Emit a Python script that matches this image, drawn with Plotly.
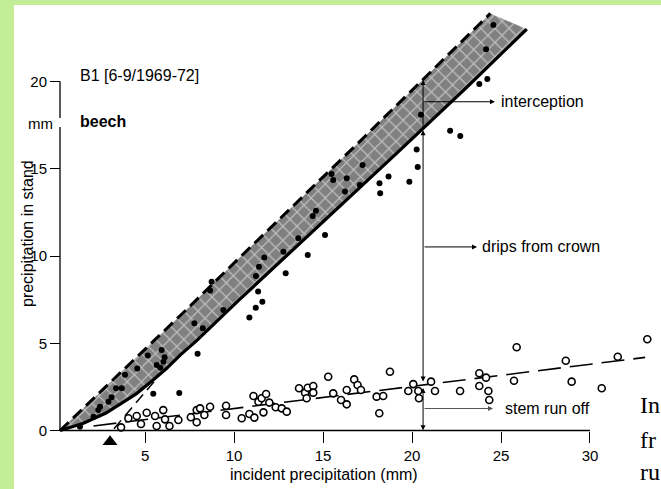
import plotly.graph_objects as go

# ---------------- data ----------------
# upper (dashed) boundary of the shaded band: incident precipitation
upper_x = [0.22, 1.25, 2.6, 4.0, 5.4, 7.5, 9.7, 13.0, 17.1, 20.6, 24.4]
upper_y = [0.0, 1.0, 2.35, 3.7, 5.05, 7.1, 9.3, 12.55, 16.6, 20.1, 23.9]
# lower (solid) boundary: throughfall regression
lower_x = [0.22, 1.5, 2.8, 3.6, 4.5, 5.4, 6.2, 7.0, 7.9, 10.3, 14.0, 19.1, 23.0, 26.45]
lower_y = [0.0, 0.4, 1.0, 1.5, 2.1, 2.85, 3.55, 4.35, 5.15, 7.5, 11.0, 15.85, 19.6, 23.0]

# throughfall measurements (filled dots)
tf_x = [1.34, 2.1, 2.37, 2.47, 2.94, 3.12, 3.37, 3.69, 3.87, 4.56, 5.15, 5.65, 5.85, 5.93, 6.1,
        6.03, 5.46, 6.92, 7.95, 7.77, 8.24, 8.65, 8.74, 9.4, 10.86, 11.22, 11.59, 11.35, 11.23,
        11.4, 11.7, 12.77, 12.9, 13.61, 14.14, 14.42, 14.6, 15.11, 15.48, 15.57, 16.23, 16.33,
        17.07, 17.22, 18.17, 18.21, 18.68, 19.85, 20.26, 20.32, 20.5, 22.14, 22.71, 23.78,
        24.23, 24.16, 24.57]
tf_y = [0.22, 0.79, 1.17, 1.36, 1.65, 1.9, 2.42, 2.42, 3.2, 3.55, 4.3, 3.75, 3.6, 4.61, 4.2,
        3.94, 2.1, 2.15, 4.4, 6.14, 5.86, 8.03, 8.53, 6.91, 6.47, 7.04, 7.38, 7.96, 8.85,
        9.39, 9.92, 10.25, 9.01, 11.01, 10.06, 12.29, 12.6, 11.2, 14.7, 14.36, 13.69, 14.45,
        14.07, 15.21, 14.17, 13.59, 14.55, 14.26, 16.11, 15.1, 18.1, 17.18, 16.88, 19.86,
        20.14, 21.85, 23.24]

# stem run off measurements (open circles)
sf_x = [3.65, 4.06, 4.53, 4.77, 5.09, 5.56, 5.65, 6.02, 6.12, 6.37, 6.87, 7.57, 7.9, 7.9,
        8.09, 8.33, 8.65, 9.55, 9.55, 10.43, 10.86, 11.14, 11.09, 11.37, 11.55, 11.65, 11.8,
        11.98, 12.34, 12.68, 12.96, 13.65, 13.99, 14.08, 14.14, 14.45, 14.45, 15.29, 15.57,
        16.01, 16.33, 16.33, 16.75, 16.94, 17.13, 18.01, 18.38, 18.16, 18.76, 19.79, 20.07,
        20.35, 20.39, 21.07, 21.29, 22.7, 23.78, 23.78, 24.16, 24.29, 24.34, 25.73, 25.88,
        28.64, 28.97, 30.66, 31.56, 33.22]
sf_y = [0.18, 0.7, 0.83, 0.37, 1.02, 0.83, 0.26, 1.17, 0.64, 0.26, 0.6, 0.76, 1.17, 0.47,
        1.27, 0.89, 1.36, 1.42, 0.89, 0.7, 0.95, 0.74, 1.98, 1.65, 1.85, 1.04, 2.09,
        1.6, 1.33, 1.27, 1.08, 2.42, 2.17, 1.85, 2.45, 2.55, 2.17, 3.08, 2.13,
        1.75, 2.32, 1.5, 2.93, 2.61, 2.32, 1.94, 1.98, 0.99, 3.37, 2.26, 2.66,
        2.26, 1.85, 2.8, 2.26, 2.26, 3.28, 2.55, 3.03, 2.26, 1.75, 2.85, 4.77,
        4.0, 2.8, 2.42, 4.23, 5.23]

# stem run off regression (long dashes)
stem_line_x = [2.1, 33.1]
stem_line_y = [0.26, 4.19]
# dashed start of the throughfall line from the threshold
thr_x = [3.25, 5.5]
thr_y = [0.1, 2.8]
# threshold marker
tri_x = [3.03]
tri_y = [-0.64]

x_ticks = [5, 10, 15, 20, 25, 30]
y_ticks = [0, 5, 10, 15, 20]

# ---------------- figure ----------------
W, H = 661, 489
XR = [-3.153, 33.99]
YR = [-3.352, 24.67]
X_AX = 0.219     # where the y axis stands
X_END = 30       # x axis drawn up to here
Y_END = 20       # y axis drawn up to here

FONT = "Liberation Sans, Arial, Helvetica, sans-serif"


def xp(v):
    return (v - XR[0]) / (XR[1] - XR[0])


def yp(v):
    return (v - YR[0]) / (YR[1] - YR[0])


def px2x(p):
    return XR[0] + p / W * (XR[1] - XR[0])


def py2y(p):
    return YR[1] - p / H * (YR[1] - YR[0])


fig = go.Figure()

band_x = upper_x + lower_x[::-1]
band_y = upper_y + lower_y[::-1]
fig.add_trace(go.Scatter(
    x=band_x, y=band_y, mode="lines", fill="toself",
    line=dict(width=0, color="rgba(0,0,0,0)"),
    fillpattern=dict(shape="x", bgcolor="#808080", fgcolor="#ffffff", size=10, solidity=0.22),
    hoverinfo="skip", showlegend=False))

fig.add_trace(go.Scatter(x=upper_x, y=upper_y, mode="lines",
                         line=dict(color="black", width=3, dash="12px,6px"),
                         showlegend=False))
fig.add_trace(go.Scatter(x=lower_x, y=lower_y, mode="lines",
                         line=dict(color="black", width=3.2),
                         showlegend=False))
fig.add_trace(go.Scatter(x=thr_x, y=thr_y, mode="lines",
                         line=dict(color="black", width=1.5, dash="11px,6px"),
                         showlegend=False))
fig.add_trace(go.Scatter(x=stem_line_x, y=stem_line_y, mode="lines",
                         line=dict(color="black", width=1.6, dash="23px,9px"),
                         showlegend=False))

fig.add_trace(go.Scatter(x=tf_x, y=tf_y, mode="markers",
                         marker=dict(color="black", size=6, symbol="circle"),
                         showlegend=False))
fig.add_trace(go.Scatter(x=sf_x, y=sf_y, mode="markers",
                         marker=dict(color="white", size=7, symbol="circle",
                                     line=dict(color="black", width=1.6)),
                         showlegend=False))
fig.add_trace(go.Scatter(x=tri_x, y=tri_y, mode="markers",
                         marker=dict(color="black", size=13, symbol="triangle-up"),
                         showlegend=False))

green = "#c4ed97"
shapes = [
    # green frame strips
    dict(type="rect", xref="paper", yref="paper", x0=0, x1=14 / W, y0=0, y1=1,
         fillcolor=green, line=dict(width=0), layer="below"),
    dict(type="rect", xref="paper", yref="paper", x0=0, x1=1, y0=1 - 5 / H, y1=1,
         fillcolor=green, line=dict(width=0), layer="below"),
    # axes lines
    dict(type="line", xref="x", yref="y", x0=X_AX, x1=X_END, y0=0, y1=0,
         line=dict(color="black", width=1.3)),
    dict(type="line", xref="x", yref="y", x0=X_AX, x1=X_AX, y0=0, y1=17.39,
         line=dict(color="black", width=1.3)),
    dict(type="line", xref="x", yref="y", x0=X_AX, x1=X_AX, y0=17.91, y1=Y_END,
         line=dict(color="black", width=1.3)),
]

ann = []
txt_font = dict(family=FONT, size=16, color="black")
ann.append(dict(x=px2x(324), y=py2y(474), xref="x", yref="y", text="incident precipitation (mm)",
                showarrow=False, font=txt_font, xanchor="center", yanchor="middle"))
ann.append(dict(x=px2x(27), y=py2y(234), xref="x", yref="y", text="precipitation in stand",
                showarrow=False, font=txt_font, textangle=-90, xanchor="center", yanchor="middle"))
ann.append(dict(x=px2x(78), y=py2y(75), xref="x", yref="y", text="B1 [6-9/1969-72]",
                showarrow=False, font=txt_font, xanchor="left", yanchor="middle"))
ann.append(dict(x=px2x(78), y=py2y(121), xref="x", yref="y", text="<b>beech</b>",
                showarrow=False, font=txt_font, xanchor="left", yanchor="middle"))
ann.append(dict(x=px2x(40.5), y=py2y(123), xref="x", yref="y", text="mm",
                showarrow=False, font=dict(family=FONT, size=15, color="black"),
                xanchor="center", yanchor="middle"))

vx = 20.62
# vertical arrows
ann.append(dict(x=vx, y=20.08, ax=vx, ay=17.21, xref="x", yref="y", axref="x", ayref="y",
                text="", showarrow=True, arrowhead=2, arrowsize=1, arrowwidth=1, arrowcolor="black"))
ann.append(dict(x=vx, y=17.21, ax=vx, ay=2.72, xref="x", yref="y", axref="x", ayref="y",
                text="", showarrow=True, arrowhead=2, startarrowhead=2, arrowside="end+start",
                arrowsize=1, startarrowsize=1, arrowwidth=1, arrowcolor="black"))
ann.append(dict(x=vx, y=0.02, ax=vx, ay=2.52, xref="x", yref="y", axref="x", ayref="y",
                text="", showarrow=True, arrowhead=2, startarrowhead=2, arrowside="end+start",
                arrowsize=1, startarrowsize=1, arrowwidth=1, arrowcolor="black"))
# horizontal arrows + labels
for (hy, hx, tx, label, col) in [(18.84, 24.66, 24.9, "interception", "black"),
                                 (10.52, 23.65, 23.8, "drips from crown", "black"),
                                 (1.26, 24.55, 25.1, "stem run off", "#555555")]:
    ann.append(dict(x=hx, y=hy, ax=vx, ay=hy, xref="x", yref="y", axref="x", ayref="y",
                    text="", showarrow=True, arrowhead=2, arrowsize=1, arrowwidth=1,
                    arrowcolor=col))
    ann.append(dict(x=tx, y=hy, xref="x", yref="y", text=label, showarrow=False,
                    font=txt_font, xanchor="left", yanchor="middle"))

# slide text at the right edge (only its beginning is visible in the reference)
serif = dict(family="Liberation Serif, Times New Roman, serif", size=24, color="black")
for py, t in [(405, "In"), (440, "fr"), (472, "ru")]:
    ann.append(dict(x=px2x(638), y=py2y(py), xref="x", yref="y", text=t, showarrow=False,
                    font=serif, xanchor="left", yanchor="middle"))

fig.update_layout(
    width=W, height=H,
    margin=dict(l=0, r=0, t=0, b=0, pad=0),
    paper_bgcolor="white", plot_bgcolor="white",
    showlegend=False,
    shapes=shapes, annotations=ann,
    xaxis=dict(range=XR, showgrid=False, zeroline=False, showline=False,
               anchor="free", position=yp(0), automargin=False,
               tickmode="array", tickvals=x_ticks, ticktext=[str(v) for v in x_ticks],
               ticks="outside", ticklen=11, tickwidth=1.2, tickcolor="black",
               tickfont=dict(family=FONT, size=15, color="black")),
    yaxis=dict(range=YR, showgrid=False, zeroline=False, showline=False,
               anchor="free", position=xp(X_AX), automargin=False,
               tickmode="array", tickvals=y_ticks, ticktext=[str(v) for v in y_ticks],
               ticks="outside", ticklen=10, tickwidth=1.2, tickcolor="black",
               tickfont=dict(family=FONT, size=15, color="black")),
)

fig.write_html("out.html", config={"displayModeBar": False},
               post_script="document.body.style.margin='0px';")
